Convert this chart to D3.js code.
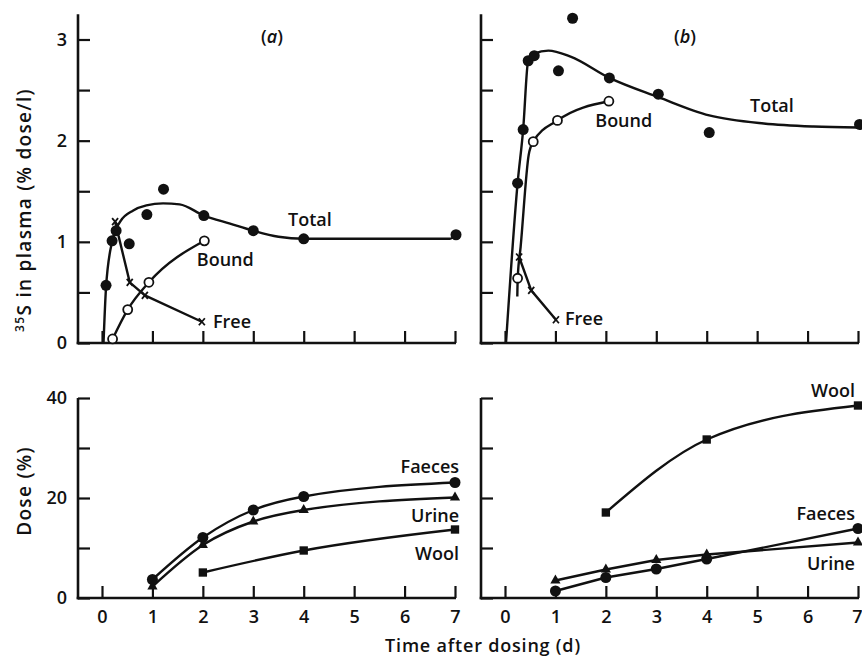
<!DOCTYPE html>
<html>
<head>
<meta charset="utf-8">
<script src="https://cdn.jsdelivr.net/npm/d3@7"></script>
<style>
body { margin: 0; background: #fff; }
svg { font-family: "Open Sans", Lato, sans-serif; font-weight: 600; }
</style>
</head>
<body>
<svg id="chart" width="862" height="659"></svg>
<script>
// time after dosing (d)
var days = [0, 1, 2, 3, 4, 5, 6, 7];
var plasmaTicks = [0, 0.5, 1, 1.5, 2, 2.5, 3];
var plasmaLabels = [0, 1, 2, 3];
var doseTicks = [0, 10, 20, 30, 40];
var doseLabels = [0, 20, 40];

// (a) 35S in plasma, % dose/l  [day, value]
var totalA = [[0.08, 0.57], [0.2, 1.01], [0.28, 1.11], [0.54, 0.98], [0.89, 1.27], [1.22, 1.52], [2.02, 1.26], [3.0, 1.11], [4.0, 1.03], [7.02, 1.07]];
var totalFitA = [[0.03, 0], [0.08, 0.55], [0.2, 1.0], [0.36, 1.2], [0.62, 1.31], [0.88, 1.36], [1.21, 1.38], [1.54, 1.37], [2.02, 1.26], [2.54, 1.18], [3.0, 1.11], [3.5, 1.05], [4.0, 1.03], [5.5, 1.03], [6.9, 1.03], [7.02, 1.07]];
var boundA = [[0.21, 0.04], [0.51, 0.33], [0.93, 0.6], [2.03, 1.01]];
var freeA = [[0.26, 1.2], [0.55, 0.6], [0.85, 0.47], [1.98, 0.21]];

// (b) 35S in plasma, % dose/l
var totalB = [[0.25, 1.58], [0.36, 2.11], [0.46, 2.79], [0.58, 2.84], [1.06, 2.69], [1.34, 3.21], [2.07, 2.62], [3.04, 2.46], [4.05, 2.08], [7.03, 2.16]];
var totalFitB = [[0.02, 0], [0.25, 1.58], [0.36, 2.11], [0.46, 2.79], [0.58, 2.86], [0.86, 2.89], [1.3, 2.83], [2.07, 2.62], [3.04, 2.43], [4.05, 2.25], [5.13, 2.17], [6.12, 2.14], [7.0, 2.13]];
var boundB = [[0.25, 0.64], [0.56, 1.99], [1.04, 2.2], [2.06, 2.39]];
var boundFitB = [[0.244, 0.46], [0.252, 0.64], [0.31, 0.95], [0.47, 1.86], [0.56, 1.99], [1.04, 2.2], [2.06, 2.39]];
var freeB = [[0.28, 0.85], [0.52, 0.52], [1.01, 0.23]];

// cumulative dose excreted / in wool, %
var faecesA = [[1, 3.7], [2, 12.1], [3, 17.6], [4, 20.3], [7, 23.1]];
var urineA = [[1, 2.3], [2, 10.6], [3, 15.3], [4, 17.6], [7, 20.1]];
var woolA = [[2, 5.1], [4, 9.5], [7, 13.7]];

var faecesB = [[1, 1.4], [2, 4.1], [3, 5.8], [4, 7.8], [7, 13.9]];
var urineB = [[1, 3.5], [2, 5.7], [3, 7.6], [4, 8.7], [7, 11.1]];
var woolB = [[2, 17.1], [4, 31.7], [7, 38.5]];

var ink = '#111';
var svg = d3.select('#chart');

var xLeft = d3.scaleLinear().domain([0, 7]).range([102, 455]);
var xRight = d3.scaleLinear().domain([0, 7]).range([505, 858]);
var yPlasma = d3.scaleLinear().domain([0, 3]).range([343, 39.5]);
var yDose = d3.scaleLinear().domain([0, 40]).range([598, 398]);

function drawFrame(x, y, axisX, yTicks, yLabels, yMax, xLabels) {
    var g = svg.append('g');

    var ya = g.append('g')
        .attr('transform', 'translate(' + axisX + ',0)')
        .call(d3.axisLeft(y)
            .tickValues(yTicks)
            .tickSizeInner(-12)
            .tickSizeOuter(0)
            .tickPadding(11)
            .tickFormat(function(d) {
                return yLabels.indexOf(d) >= 0 ? d : '';
            }));

    var xa = g.append('g')
        .attr('transform', 'translate(0,' + y(0) + ')')
        .call(d3.axisBottom(x)
            .tickValues(days)
            .tickSizeInner(-12)
            .tickSizeOuter(0)
            .tickPadding(12)
            .tickFormat(function(d) { return xLabels ? d : ''; }));

    [ya, xa].forEach(function(a) {
        a.select('.domain').remove();
        a.selectAll('line').attr('stroke', ink).attr('stroke-width', 2.2);
        a.selectAll('text')
            .attr('fill', ink)
            .attr('font-size', 18)
            .attr('font-weight', 600)
            .attr('font-family', '"Open Sans", Lato, sans-serif');
    });

    // keep the last tick label inside the page
    if (x(7) > 850) {
        xa.selectAll('text')
            .filter(function(d) { return d === 7; })
            .attr('text-anchor', 'end')
            .attr('dx', 4);
    }

    g.append('line')
        .attr('x1', axisX).attr('x2', axisX)
        .attr('y1', y(0) + 1.3).attr('y2', y(yMax))
        .attr('stroke', ink).attr('stroke-width', 2.6);

    g.append('line')
        .attr('x1', axisX - 1.3).attr('x2', x(7) + 1)
        .attr('y1', y(0)).attr('y2', y(0))
        .attr('stroke', ink).attr('stroke-width', 2.6);
}

function drawLine(data, x, y, curve) {
    var line = d3.line()
        .x(function(d) { return x(d[0]); })
        .y(function(d) { return y(d[1]); })
        .curve(curve || d3.curveMonotoneX);

    svg.append('path')
        .datum(data)
        .attr('d', line)
        .attr('fill', 'none')
        .attr('stroke', ink)
        .attr('stroke-width', 2.4)
        .attr('stroke-linejoin', 'round');
}

function drawMarkers(data, x, y, type) {
    var g = svg.append('g');
    var sel = g.selectAll('.m')
        .data(data)
        .enter();

    if (type === 'dot' || type === 'ring') {
        sel.append('circle')
            .attr('cx', function(d) { return x(d[0]); })
            .attr('cy', function(d) { return y(d[1]); })
            .attr('r', type === 'dot' ? 5.5 : 4.5)
            .attr('fill', type === 'dot' ? ink : '#fff')
            .attr('stroke', ink)
            .attr('stroke-width', type === 'dot' ? 0 : 1.8);
    } else if (type === 'cross') {
        sel.append('path')
            .attr('transform', function(d) {
                return 'translate(' + x(d[0]) + ',' + y(d[1]) + ')';
            })
            .attr('d', 'M-3,-3.5L3,3.5M-3,3.5L3,-3.5')
            .attr('stroke', ink)
            .attr('stroke-width', 1.8)
            .attr('fill', 'none');
    } else {
        var sym = d3.symbol()
            .type(type === 'square' ? d3.symbolSquare : d3.symbolTriangle)
            .size(type === 'square' ? 70 : 45);
        sel.append('path')
            .attr('transform', function(d) {
                return 'translate(' + x(d[0]) + ',' + y(d[1]) + ')';
            })
            .attr('d', sym)
            .attr('fill', ink);
    }
}

function label(txt, x, y, t, v, anchor) {
    return svg.append('text')
        .attr('x', x(t))
        .attr('y', y(v))
        .attr('text-anchor', anchor || 'start')
        .attr('font-size', 18)
        .attr('fill', ink)
        .text(txt);
}

function panelTag(letter, x, y, t, v) {
    var tag = svg.append('text')
        .attr('x', x(t))
        .attr('y', y(v))
        .attr('text-anchor', 'middle')
        .attr('font-size', 18)
        .attr('fill', ink);
    tag.append('tspan').text('(');
    tag.append('tspan').attr('font-style', 'italic').text(letter);
    tag.append('tspan').text(')');
}

// frames
drawFrame(xLeft, yPlasma, 78, plasmaTicks, plasmaLabels, 3.25, false);
drawFrame(xRight, yPlasma, 481, plasmaTicks, [], 3.25, false);
drawFrame(xLeft, yDose, 78, doseTicks, doseLabels, 40, true);
drawFrame(xRight, yDose, 481, doseTicks, [], 40, true);

// (a) plasma
drawLine(totalFitA, xLeft, yPlasma);
drawLine(boundA, xLeft, yPlasma);
drawLine(freeA, xLeft, yPlasma, d3.curveLinear);
drawMarkers(totalA, xLeft, yPlasma, 'dot');
drawMarkers(boundA, xLeft, yPlasma, 'ring');
drawMarkers(freeA, xLeft, yPlasma, 'cross');

// (b) plasma
drawLine(totalFitB, xRight, yPlasma);
drawLine(boundFitB, xRight, yPlasma);
drawLine(freeB, xRight, yPlasma, d3.curveLinear);
drawMarkers(totalB, xRight, yPlasma, 'dot');
drawMarkers(boundB, xRight, yPlasma, 'ring');
drawMarkers(freeB, xRight, yPlasma, 'cross');

// dose panels
drawLine(faecesA, xLeft, yDose);
drawLine(urineA, xLeft, yDose);
drawLine(woolA, xLeft, yDose);
drawMarkers(faecesA, xLeft, yDose, 'dot');
drawMarkers(urineA, xLeft, yDose, 'triangle');
drawMarkers(woolA, xLeft, yDose, 'square');

drawLine(faecesB, xRight, yDose, d3.curveLinear);
drawLine(urineB, xRight, yDose, d3.curveLinear);
drawLine(woolB, xRight, yDose);
drawMarkers(faecesB, xRight, yDose, 'dot');
drawMarkers(urineB, xRight, yDose, 'triangle');
drawMarkers(woolB, xRight, yDose, 'square');

// labels
panelTag('a', xLeft, yPlasma, 3.37, 2.97);
label('Total', xLeft, yPlasma, 3.69, 1.16);
label('Bound', xLeft, yPlasma, 1.88, 0.76);
label('Free', xLeft, yPlasma, 2.2, 0.15);

panelTag('b', xRight, yPlasma, 3.57, 2.97);
label('Total', xRight, yPlasma, 4.86, 2.28);
label('Bound', xRight, yPlasma, 1.79, 2.14);
label('Free', xRight, yPlasma, 1.19, 0.18);

label('Faeces', xLeft, yDose, 7.08, 25, 'end');
label('Urine', xLeft, yDose, 7.08, 15.2, 'end');
label('Wool', xLeft, yDose, 7.08, 7.6, 'end');

label('Wool', xRight, yDose, 6.94, 40.2, 'end');
label('Faeces', xRight, yDose, 6.94, 15.6, 'end');
label('Urine', xRight, yDose, 6.94, 5.6, 'end');

// axis titles
var yt = svg.append('text')
    .attr('transform', 'translate(31,210) rotate(-90)')
    .attr('text-anchor', 'middle')
    .attr('font-size', 19)
    .attr('letter-spacing', 1.3)
    .attr('fill', ink);
yt.append('tspan').attr('font-size', 12).attr('dy', -7).text('35');
yt.append('tspan').attr('dy', 7).text('S in plasma (% dose/l)');

svg.append('text')
    .attr('transform', 'translate(31,491) rotate(-90)')
    .attr('text-anchor', 'middle')
    .attr('font-size', 19)
    .attr('letter-spacing', 1.3)
    .attr('fill', ink)
    .text('Dose (%)');

svg.append('text')
    .attr('x', 483)
    .attr('y', 652)
    .attr('text-anchor', 'middle')
    .attr('font-size', 18)
    .attr('letter-spacing', 0.8)
    .attr('fill', ink)
    .text('Time after dosing (d)');
</script>
</body>
</html>
